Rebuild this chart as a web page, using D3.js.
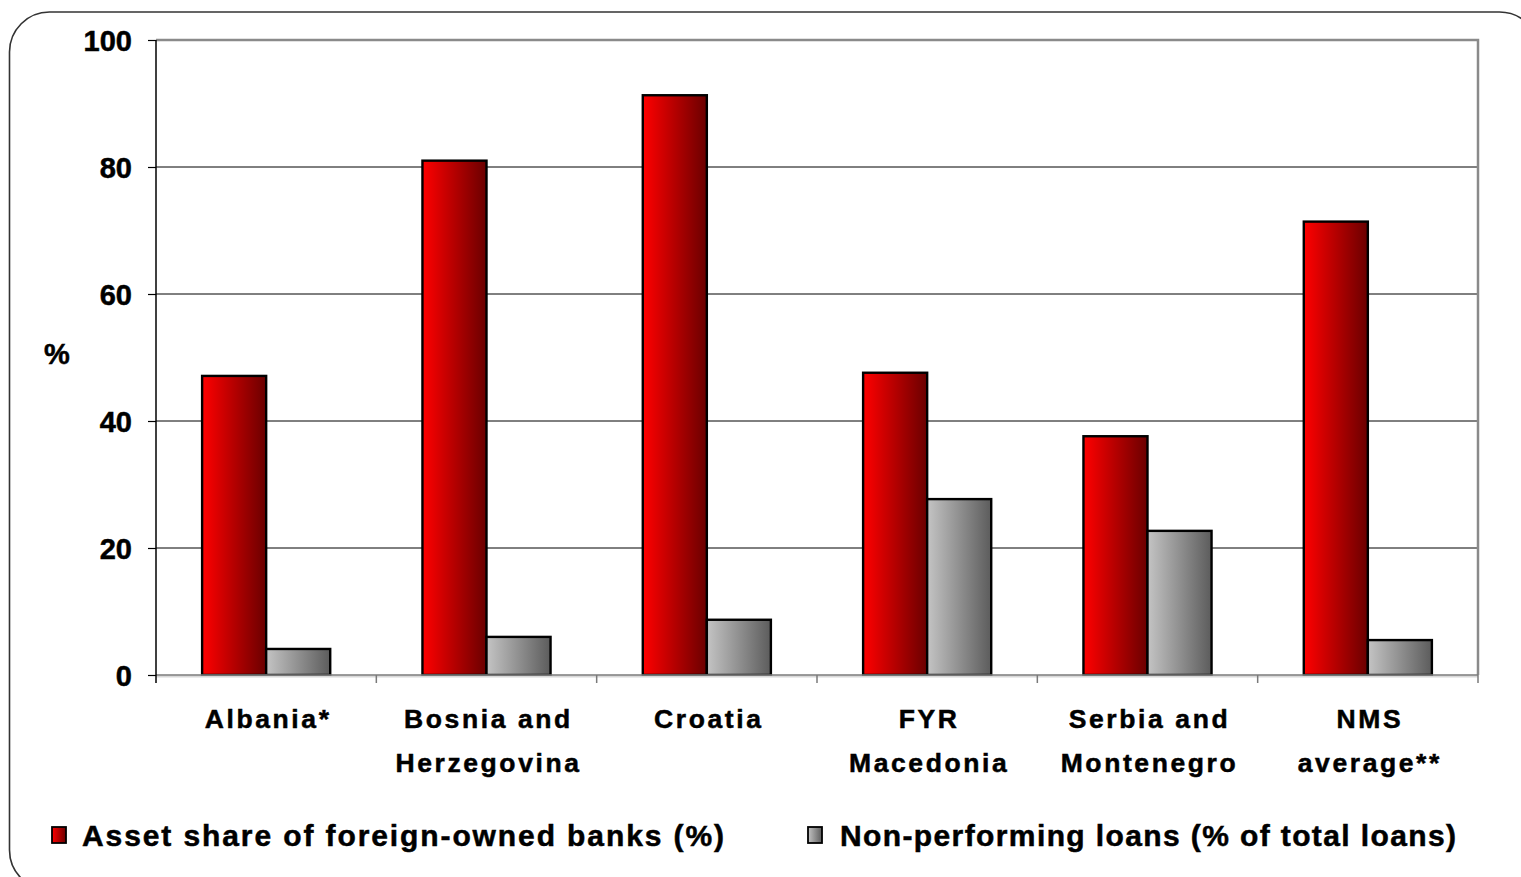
<!DOCTYPE html>
<html>
<head>
<meta charset="utf-8">
<script src="https://cdn.jsdelivr.net/npm/d3@7/dist/d3.min.js"></script>
<style>
  html, body { margin: 0; padding: 0; background: #fff; }
  svg { display: block; }
  text { font-family: Arial, "Liberation Sans", sans-serif; font-weight: bold; fill: #000; stroke: #000; stroke-width: 0.5px; }
</style>
</head>
<body>
<svg id="chart" width="1521" height="877"></svg>
<script>
// Categories (one entry per label line)
const categories = [
  ["Albania*"],
  ["Bosnia and", "Herzegovina"],
  ["Croatia"],
  ["FYR", "Macedonia"],
  ["Serbia and", "Montenegro"],
  ["NMS", "average**"]
];
const seriesNames = [
  "Asset share of foreign-owned banks (%)",
  "Non-performing loans (% of total loans)"
];
const assetShare = [47.1, 81.0, 91.3, 47.6, 37.6, 71.4];
const nonPerforming = [4.1, 6.0, 8.7, 27.7, 22.7, 5.5];
const yTicks = [0, 20, 40, 60, 80, 100];

const svg = d3.select("#chart");
const plot = { left: 156, right: 1478, top: 40, bottom: 675 };

// Gradients for bar fills
const defs = svg.append("defs");
function grad(id, from, to) {
  const g = defs.append("linearGradient").attr("id", id)
    .attr("x1", "0%").attr("x2", "100%").attr("y1", "0%").attr("y2", "0%");
  g.append("stop").attr("offset", "0%").attr("stop-color", from);
  g.append("stop").attr("offset", "100%").attr("stop-color", to);
}
grad("gRed", "#ff0000", "#6a0000");
grad("gGray", "#c4c4c4", "#5c5c5c");
const fills = ["url(#gRed)", "url(#gGray)"];

// Rounded frame around the whole chart
svg.append("rect")
  .attr("x", 9.5).attr("y", 12).attr("width", 1530).attr("height", 878)
  .attr("rx", 40).attr("ry", 40)
  .attr("fill", "none").attr("stroke", "#333").attr("stroke-width", 1.6);

const catKeys = categories.map(c => c.join(" "));
const x0 = d3.scaleBand().domain(catKeys).range([plot.left, plot.right]).paddingInner(0).paddingOuter(0);
const x1 = d3.scaleBand().domain(seriesNames).range([0, x0.bandwidth()]).paddingInner(0).paddingOuter(0.72);
const y = d3.scaleLinear().domain([0, 100]).range([plot.bottom, plot.top]);

// Horizontal gridlines
svg.append("g").selectAll("line")
  .data(yTicks.filter(t => t > 0 && t < 100))
  .join("line")
  .attr("x1", plot.left).attr("x2", plot.right)
  .attr("y1", d => y(d)).attr("y2", d => y(d))
  .attr("stroke", "#000").attr("stroke-width", 1);

// Plot-area frame: top and right in gray
svg.append("path")
  .attr("d", `M${plot.left},${y(100)}H${plot.right}V${plot.bottom}`)
  .attr("fill", "none").attr("stroke", "#8a8a8a").attr("stroke-width", 2.5);

// Bars
const rows = catKeys.map((k, i) => ({ key: k, values: [assetShare[i], nonPerforming[i]] }));
const groups = svg.append("g").selectAll("g")
  .data(rows).join("g")
  .attr("transform", d => `translate(${x0(d.key)},0)`);
groups.selectAll("rect")
  .data(d => d.values.map((v, j) => ({ s: seriesNames[j], v, j })))
  .join("rect")
  .attr("x", d => x1(d.s))
  .attr("width", x1.bandwidth())
  .attr("y", d => y(d.v))
  .attr("height", d => y(0) - y(d.v))
  .attr("fill", d => fills[d.j])
  .attr("stroke", "#000").attr("stroke-width", 2.4);

// X axis (gray) with category boundary ticks
const xAxisG = svg.append("g");
xAxisG.append("line")
  .attr("x1", plot.left).attr("x2", plot.right)
  .attr("y1", plot.bottom + 1.5).attr("y2", plot.bottom + 1.5)
  .attr("stroke", "#d8d8d8").attr("stroke-width", 2);
xAxisG.append("line")
  .attr("x1", plot.left).attr("x2", plot.right)
  .attr("y1", plot.bottom).attr("y2", plot.bottom)
  .attr("stroke", "#7a7a7a").attr("stroke-width", 1.5);
xAxisG.selectAll("line.tk")
  .data(catKeys)
  .join("line").attr("class", "tk")
  .attr("x1", d => x0(d) + x0.bandwidth()).attr("x2", d => x0(d) + x0.bandwidth())
  .attr("y1", plot.bottom).attr("y2", plot.bottom + 8)
  .attr("stroke", "#7a7a7a").attr("stroke-width", 1.5);

// Y axis
const yAxis = d3.axisLeft(y).tickValues(yTicks).tickSize(8).tickPadding(16).tickSizeOuter(0);
const yG = svg.append("g").attr("transform", `translate(${plot.left},0)`).call(yAxis);
yG.select(".domain").attr("stroke", "#000").attr("stroke-width", 1.5)
  .attr("d", `M0,${y(100)}V${plot.bottom + 8}`);
yG.selectAll(".tick line").attr("stroke", "#000").attr("stroke-width", 1.2);
yG.selectAll(".tick text")
  .attr("font-family", "Arial, 'Liberation Sans', sans-serif")
  .attr("font-weight", "bold").attr("font-size", 29).attr("fill", "#000")
  .attr("stroke", "#000").attr("stroke-width", 0.5)
  .attr("dy", "0.36em");

// Y axis title
svg.append("text").attr("x", 57).attr("y", 364)
  .attr("text-anchor", "middle").attr("font-size", 29).text("%");

// Category labels
const catG = svg.append("g");
categories.forEach((lines, i) => {
  const cx = x0(catKeys[i]) + x0.bandwidth() / 2 + 2;
  lines.forEach((ln, li) => {
    catG.append("text")
      .attr("x", cx).attr("y", 728 + li * 44)
      .attr("text-anchor", "middle")
      .attr("font-size", 26.5)
      .attr("letter-spacing", "2.6px")
      .text(ln);
  });
});

// Legend
const legendItems = [
  { name: seriesNames[0], fill: fills[0], mx: 52, tx: 82, tw: 642 },
  { name: seriesNames[1], fill: fills[1], mx: 808, tx: 840, tw: 616 }
];
const lg = svg.append("g");
legendItems.forEach(it => {
  lg.append("rect").attr("x", it.mx).attr("y", 827)
    .attr("width", 14).attr("height", 16)
    .attr("fill", it.fill).attr("stroke", "#000").attr("stroke-width", 1.8);
  lg.append("text").attr("x", it.tx).attr("y", 846)
    .attr("font-size", 30)
    .attr("textLength", it.tw).attr("lengthAdjust", "spacing")
    .text(it.name);
});
</script>
</body>
</html>
